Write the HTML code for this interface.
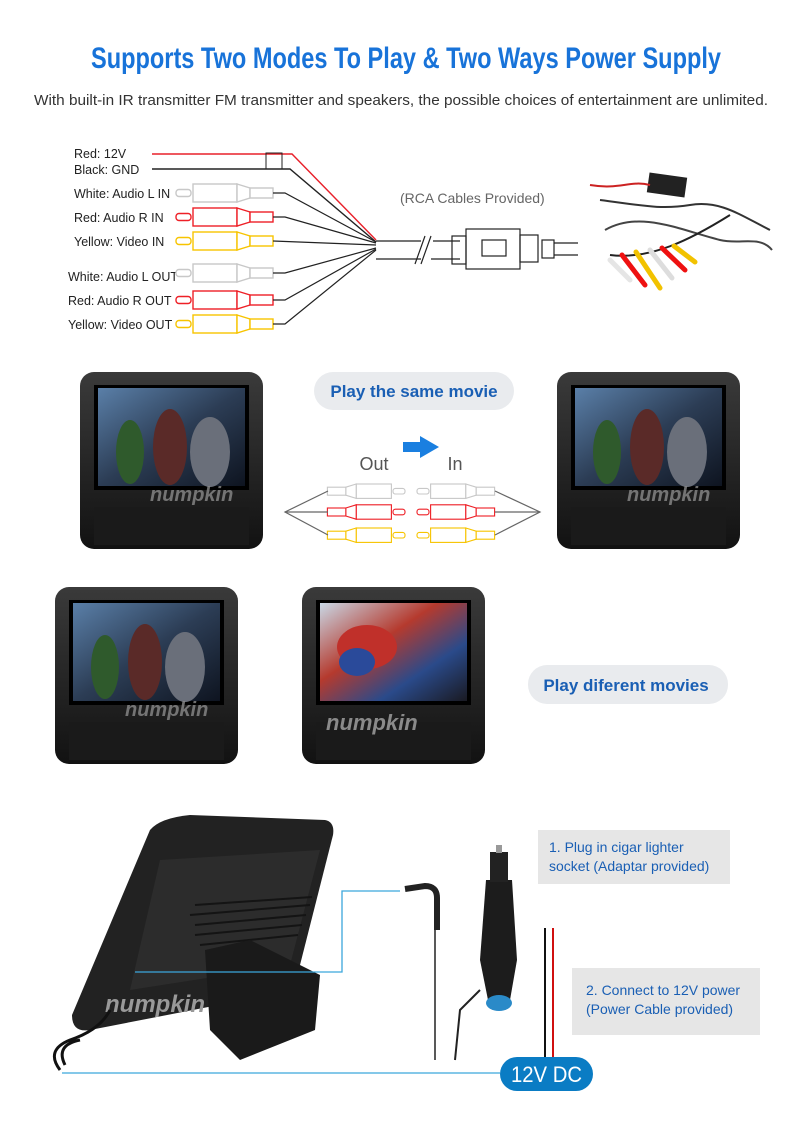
<!DOCTYPE html>
<html><head><meta charset="utf-8"><style>
body{margin:0;background:#fff;}
svg{display:block;}
</style></head><body>
<svg width="800" height="1129" viewBox="0 0 800 1129" xmlns="http://www.w3.org/2000/svg" font-family="Liberation Sans, sans-serif">
<defs>
<g id="plugL" fill="#fff" stroke="currentColor" stroke-width="1.4">
<rect x="0" y="-3.5" width="15" height="7" rx="3"/>
<rect x="17" y="-9" width="44" height="18"/>
<polygon points="61,-9 74,-5 74,5 61,9"/>
<rect x="74" y="-5" width="23" height="10"/>
</g>
<linearGradient id="scr" x1="0" y1="0" x2="1" y2="1">
<stop offset="0" stop-color="#5a7fa8"/><stop offset="0.5" stop-color="#2c3d55"/><stop offset="1" stop-color="#0e1420"/>
</linearGradient>
<linearGradient id="scr2" x1="0" y1="0" x2="1" y2="1">
<stop offset="0" stop-color="#c9d8e6"/><stop offset="0.4" stop-color="#b53a2e"/><stop offset="0.7" stop-color="#2a4a8a"/><stop offset="1" stop-color="#1a1a22"/>
</linearGradient>
<linearGradient id="bez" x1="0" y1="0" x2="0" y2="1">
<stop offset="0" stop-color="#3a3a3a"/><stop offset="1" stop-color="#121212"/>
</linearGradient>
<g id="mon">
<rect x="0" y="0" width="183" height="177" rx="14" fill="url(#bez)"/>
<rect x="14" y="13" width="155" height="105" fill="#000"/>
<rect x="18" y="16" width="147" height="98" fill="url(#scr)"/>
<ellipse cx="50" cy="80" rx="14" ry="32" fill="#2f5a2c"/>
<ellipse cx="90" cy="75" rx="17" ry="38" fill="#5a2a28"/>
<ellipse cx="130" cy="80" rx="20" ry="35" fill="#6a6f7a"/>
<rect x="14" y="135" width="155" height="38" fill="#1a1a1a"/>
<text x="70" y="129" font-size="20" font-style="italic" font-weight="bold" fill="#8a8a8a" opacity="0.8">numpkin</text>
</g>
</defs>

<text x="91" y="68" textLength="630" lengthAdjust="spacingAndGlyphs" font-weight="bold" font-size="30" fill="#1873d9">Supports Two Modes To Play &amp; Two Ways Power Supply</text>
<text x="34" y="105" textLength="734" lengthAdjust="spacingAndGlyphs" font-size="14.5" fill="#333">With built-in IR transmitter FM transmitter and speakers, the possible choices of entertainment are unlimited.</text>

<!-- top wiring -->
<g font-size="12.5" fill="#222">
<text x="74" y="158">Red: 12V</text>
<text x="74" y="174">Black: GND</text>
<text x="74" y="198">White: Audio L IN</text>
<text x="74" y="222">Red: Audio R IN</text>
<text x="74" y="246">Yellow: Video IN</text>
<text x="68" y="281">White: Audio L OUT</text>
<text x="68" y="305">Red: Audio R OUT</text>
<text x="68" y="329">Yellow: Video OUT</text>
</g>
<polyline points="152,154 292,154 376,240" fill="none" stroke="#e8202a" stroke-width="1.4"/>
<polyline points="152,169 290,169 376,242" fill="none" stroke="#222" stroke-width="1.4"/>
<rect x="266" y="153" width="16" height="16" fill="none" stroke="#222" stroke-width="1"/>
<use href="#plugL" x="176" y="193" color="#c8c8c8"/>
<use href="#plugL" x="176" y="217" color="#ee2027"/>
<use href="#plugL" x="176" y="241" color="#f7c400"/>
<use href="#plugL" x="176" y="273" color="#c8c8c8"/>
<use href="#plugL" x="176" y="300" color="#ee2027"/>
<use href="#plugL" x="176" y="324" color="#f7c400"/>
<g stroke="#222" stroke-width="1.2" fill="none">
<polyline points="273,193 285,193 376,242"/>
<polyline points="273,217 285,217 376,243"/>
<line x1="273" y1="241" x2="376" y2="245"/>
<polyline points="273,273 285,273 376,248"/>
<polyline points="273,300 285,300 376,249"/>
<polyline points="273,324 285,324 376,250"/>
<line x1="376" y1="241" x2="421" y2="241"/>
<line x1="376" y1="259" x2="421" y2="259"/>
<line x1="433" y1="241" x2="460" y2="241"/>
<line x1="431" y1="259" x2="460" y2="259"/>
<line x1="415" y1="264" x2="425" y2="236"/>
<line x1="421" y1="264" x2="431" y2="236"/>
<rect x="452" y="236" width="14" height="28"/>
<rect x="466" y="229" width="54" height="40"/>
<rect x="482" y="240" width="24" height="16"/>
<rect x="520" y="235" width="18" height="27"/>
<rect x="542" y="240" width="12" height="18"/>
<line x1="554" y1="243" x2="578" y2="243"/>
<line x1="554" y1="255" x2="578" y2="255"/>
</g>
<text x="400" y="203" font-size="14" fill="#666">(RCA Cables Provided)</text>
<!-- photo of harness -->
<g>
<rect x="648" y="175" width="38" height="20" fill="#222" transform="rotate(8 667 185)"/>
<path d="M600 200 C640 205 660 210 690 205 C720 200 740 215 770 230" stroke="#333" stroke-width="2" fill="none"/>
<path d="M605 230 C640 210 680 230 720 240 C740 245 760 235 772 250" stroke="#444" stroke-width="2" fill="none"/>
<path d="M610 255 C650 260 690 240 730 215" stroke="#222" stroke-width="2" fill="none"/>
<path d="M590 185 C620 190 630 180 650 185" stroke="#c22" stroke-width="2" fill="none"/>
<g stroke-width="5" stroke-linecap="round">
<line x1="610" y1="260" x2="630" y2="280" stroke="#e5e5e5"/>
<line x1="622" y1="255" x2="645" y2="285" stroke="#e11"/>
<line x1="636" y1="252" x2="660" y2="288" stroke="#f2c200"/>
<line x1="650" y1="250" x2="672" y2="278" stroke="#ddd"/>
<line x1="662" y1="248" x2="685" y2="270" stroke="#e11"/>
<line x1="674" y1="246" x2="695" y2="262" stroke="#f2c200"/>
</g>
</g>

<!-- mode 1 -->
<use href="#mon" x="80" y="372"/>
<use href="#mon" x="557" y="372"/>
<rect x="314" y="372" width="200" height="38" rx="19" fill="#e9ebee"/>
<text x="414" y="397" text-anchor="middle" font-size="17" font-weight="bold" fill="#1a5fb4">Play the same movie</text>
<text x="374" y="470" text-anchor="middle" font-size="18" fill="#555">Out</text>
<text x="455" y="470" text-anchor="middle" font-size="18" fill="#555">In</text>
<polygon points="403,442 420,442 420,436 439,447 420,458 420,452 403,452" fill="#1a7fe0"/>
<g transform="translate(405,0) scale(-0.8,0.8)">
<use href="#plugL" x="0" y="614" color="#c8c8c8"/>
<use href="#plugL" x="0" y="640" color="#ee2027"/>
<use href="#plugL" x="0" y="669" color="#f7c400"/>
</g>
<g transform="translate(417,0) scale(0.8,0.8)">
<use href="#plugL" x="0" y="614" color="#c8c8c8"/>
<use href="#plugL" x="0" y="640" color="#ee2027"/>
<use href="#plugL" x="0" y="669" color="#f7c400"/>
</g>
<g stroke="#666" stroke-width="1.2" fill="none">
<polyline points="328,491 285,512 328,535"/><line x1="285" y1="512" x2="328" y2="512"/>
<polyline points="495,491 540,512 495,535"/><line x1="540" y1="512" x2="495" y2="512"/>
</g>

<!-- mode 2 -->
<use href="#mon" x="55" y="587"/>
<g transform="translate(302,587)">
<rect x="0" y="0" width="183" height="177" rx="14" fill="url(#bez)"/>
<rect x="14" y="13" width="155" height="105" fill="#000"/>
<rect x="18" y="16" width="147" height="98" fill="url(#scr2)"/>
<ellipse cx="65" cy="60" rx="30" ry="22" fill="#c0302a"/>
<ellipse cx="55" cy="75" rx="18" ry="14" fill="#2a4a9a"/>
<rect x="14" y="135" width="155" height="38" fill="#1a1a1a"/>
<text x="24" y="143" font-size="22" font-style="italic" font-weight="bold" fill="#8a8a8a">numpkin</text>
</g>
<rect x="528" y="665" width="200" height="39" rx="19" fill="#e9ebee"/>
<text x="626" y="691" text-anchor="middle" font-size="17" font-weight="bold" fill="#1a5fb4">Play diferent movies</text>

<!-- power -->
<path d="M150 830 Q160 818 190 815 L325 820 Q335 822 333 835 L300 965 Q290 990 270 995 L90 1030 Q72 1033 72 1015 Z" fill="#222"/>
<path d="M160 860 L320 850 L290 965 L130 990 Z" fill="#2c2c2c"/>
<g stroke="#141414" stroke-width="2">
<line x1="190" y1="915" x2="310" y2="905"/><line x1="195" y1="905" x2="312" y2="897"/>
<line x1="195" y1="925" x2="306" y2="915"/><line x1="195" y1="935" x2="302" y2="925"/>
<line x1="200" y1="945" x2="298" y2="935"/>
</g>
<path d="M205 950 L250 940 L320 975 L315 1030 L240 1060 L210 1030 Z" fill="#1a1a1a"/>
<text x="105" y="1012" font-size="24" font-style="italic" font-weight="bold" fill="#999">numpkin</text>
<path d="M60 1070 Q45 1050 70 1040 Q100 1030 110 1010 M65 1065 Q55 1045 80 1040" stroke="#111" stroke-width="3" fill="none"/>
<line x1="62" y1="1073" x2="500" y2="1073" stroke="#3ba6dc" stroke-width="1.3"/>
<polyline points="135,972 342,972 342,891 400,891" stroke="#3ba6dc" stroke-width="1.3" fill="none"/>
<!-- DC plug -->
<path d="M405 889 L425 886 Q437 886 437 898 L437 930" stroke="#222" stroke-width="6" fill="none"/>
<line x1="435" y1="930" x2="435" y2="1060" stroke="#222" stroke-width="1.5"/>
<!-- cigar plug -->
<path d="M486 880 L512 880 L517 960 L510 1000 L488 1000 L480 960 Z" fill="#1c1c1c"/>
<rect x="490" y="852" width="18" height="30" fill="#222"/>
<rect x="496" y="845" width="6" height="8" fill="#999"/>
<ellipse cx="499" cy="1003" rx="13" ry="8" fill="#2a8ac8"/>
<path d="M480 990 L460 1010 L455 1060" stroke="#222" stroke-width="2" fill="none"/>
<!-- power wires -->
<line x1="545" y1="928" x2="545" y2="1060" stroke="#111" stroke-width="2"/>
<line x1="553" y1="928" x2="553" y2="1060" stroke="#d01010" stroke-width="2"/>
<rect x="538" y="830" width="192" height="54" fill="#e6e6e6"/>
<text x="549" y="852" font-size="14" fill="#1a5fb4">1. Plug in cigar lighter</text>
<text x="549" y="871" font-size="14" fill="#1a5fb4">socket (Adaptar provided)</text>
<rect x="572" y="968" width="188" height="67" fill="#e6e6e6"/>
<text x="586" y="995" font-size="14" fill="#1a5fb4">2. Connect to 12V power</text>
<text x="586" y="1014" font-size="14" fill="#1a5fb4">(Power Cable provided)</text>
<rect x="500" y="1057" width="93" height="34" rx="17" fill="#0a7cc4"/>
<text x="511" y="1082" textLength="71" lengthAdjust="spacingAndGlyphs" font-size="22" fill="#fff">12V DC</text>
</svg>
</body></html>
